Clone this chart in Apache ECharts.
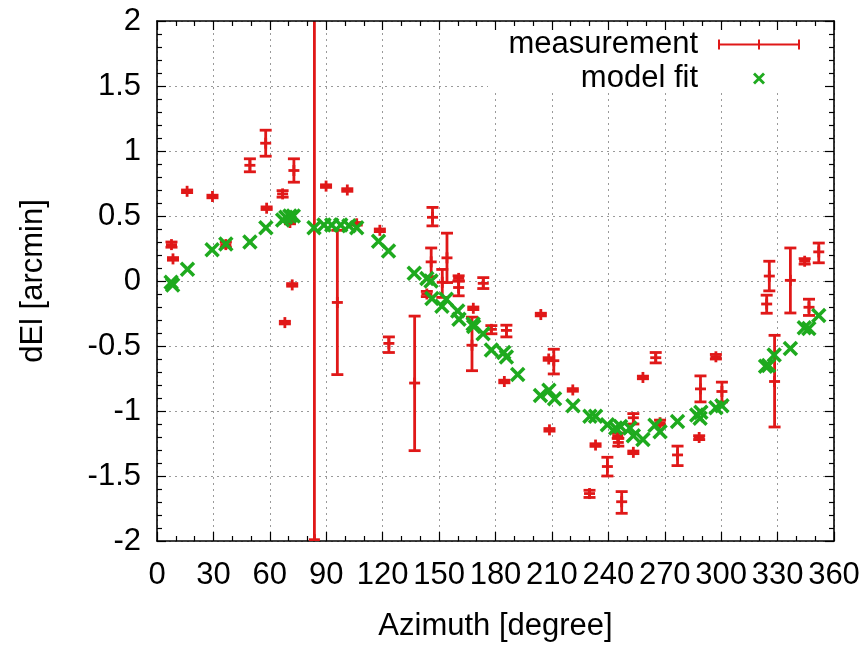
<!DOCTYPE html>
<html>
<head>
<meta charset="utf-8">
<title>dEl vs Azimuth</title>
<script src="https://cdn.jsdelivr.net/npm/echarts@6/dist/echarts.min.js"></script>
<style>
  html, body { margin: 0; padding: 0; background: #fff; }
  #chart { width: 867px; height: 647px; }
</style>
</head>
<body>
<div id="chart"></div>
<script>
// Measured elevation offsets (arcmin) with lower / upper error limits
const measAz  = [7.7, 8.5, 16.0, 29.5, 36.6, 49.4, 57.8, 58.3, 66.8, 68.0, 70.7, 71.9, 72.8, 83.7, 89.9, 95.9, 101.2, 106.2, 118.5, 123.3, 137.0, 143.5, 145.8, 146.5, 151.7, 154.2, 160.4, 160.4, 167.5, 168.2, 173.5, 177.8, 184.7, 185.8, 204.1, 208.3, 208.7, 211.0, 221.1, 230.0, 233.2, 239.5, 245.0, 245.3, 247.1, 253.3, 253.3, 258.4, 265.2, 267.5, 276.8, 288.3, 289.0, 297.2, 300.4, 324.2, 325.6, 328.4, 336.8, 344.4, 346.7, 351.9];
const measVal = [0.28, 0.17, 0.69, 0.65, 0.28, 0.89, 1.06, 0.56, 0.67, -0.32, 0.45, -0.03, 0.85, -1.99, 0.73, -0.165, 0.70, 0.44, 0.39, -0.48, -0.785, -0.10, 0.147, 0.49, -0.01, 0.178, 0.02, -0.05, -0.494, -0.21, -0.018, -0.372, -0.773, -0.38, -0.258, -0.60, -1.145, -0.613, -0.838, -1.635, -1.262, -1.427, -1.19, -1.242, -1.698, -1.052, -1.318, -0.742, -0.59, -1.09, -1.338, -1.204, -0.83, -0.583, -0.85, -0.177, 0.038, -0.773, 0.005, 0.152, -0.202, 0.224];
const measLo  = [0.26, 0.16, 0.68, 0.64, 0.26, 0.84, 0.96, 0.55, 0.645, -0.33, 0.44, -0.04, 0.76, -5.99, 0.72, -0.72, 0.69, 0.43, 0.38, -0.55, -1.305, -0.12, 0.033, 0.424, -0.126, -0.012, 0.0, -0.114, -0.69, -0.22, -0.058, -0.406, -0.783, -0.43, -0.268, -0.61, -1.155, -0.715, -0.848, -1.665, -1.272, -1.50, -1.21, -1.27, -1.787, -1.10, -1.328, -0.752, -0.63, -1.11, -1.42, -1.22, -0.93, -0.60, -0.93, -0.248, -0.076, -1.123, -0.246, 0.13, -0.265, 0.14];
const measHi  = [0.30, 0.18, 0.70, 0.66, 0.30, 0.94, 1.16, 0.57, 0.695, -0.31, 0.46, -0.02, 0.94, 2.01, 0.74, 0.39, 0.71, 0.45, 0.40, -0.43, -0.27, -0.08, 0.254, 0.566, 0.089, 0.368, 0.04, 0.0, -0.278, -0.20, 0.026, -0.343, -0.763, -0.34, -0.248, -0.59, -1.135, -0.525, -0.828, -1.61, -1.252, -1.356, -1.17, -1.21, -1.62, -1.02, -1.308, -0.732, -0.55, -1.07, -1.27, -1.19, -0.73, -0.565, -0.778, -0.109, 0.152, -0.418, 0.254, 0.172, -0.14, 0.292];

// Pointing model prediction at each observed azimuth
const fitAz  = [7.5, 8.3, 16.2, 29.3, 36.6, 49.4, 57.9, 66.8, 68.5, 70.7, 72.5, 83.5, 88.8, 92.9, 97.7, 102.1, 106.2, 117.8, 123.1, 136.8, 143.5, 145.7, 146.2, 151.5, 153.8, 159.9, 160.6, 168.1, 168.4, 173.4, 177.8, 184.4, 185.8, 191.8, 203.9, 208.4, 211.4, 221.2, 230.2, 233.2, 239.5, 243.9, 246.5, 251.5, 253.3, 258.4, 264.8, 267.5, 276.8, 287.0, 288.8, 289.2, 297.2, 300.4, 323.6, 325.2, 328.2, 336.8, 344.2, 346.6, 351.9];
const fitVal = [-0.01, -0.03, 0.09, 0.24, 0.285, 0.30, 0.41, 0.47, 0.49, 0.50, 0.50, 0.41, 0.43, 0.43, 0.43, 0.425, 0.41, 0.305, 0.23, 0.06, 0.02, 0.0, -0.135, -0.195, -0.14, -0.23, -0.295, -0.33, -0.35, -0.405, -0.53, -0.55, -0.585, -0.72, -0.88, -0.84, -0.905, -0.96, -1.04, -1.04, -1.105, -1.13, -1.12, -1.13, -1.19, -1.22, -1.11, -1.16, -1.08, -1.03, -1.055, -1.01, -0.975, -0.96, -0.655, -0.65, -0.57, -0.52, -0.36, -0.365, -0.265];

const xTicks = { min: 0, max: 360, step: 30 };
const yTicks = { min: -2, max: 2, step: 0.5 };

const RED = '#e01818';
const GREEN = '#1eaa1e';
const FONT = 'Liberation Sans';
const FS = 31;

const measData = measAz.map((a, i) => [a, measVal[i], measLo[i], measHi[i]]);
const fitData = fitAz.map((a, i) => [a, fitVal[i]]);

function renderErrorBar(params, api) {
  const x = api.value(0);
  const c = api.coord([x, api.value(1)]);
  const lo = api.coord([x, api.value(2)]);
  const hi = api.coord([x, api.value(3)]);
  const cap = 6, arm = 5.5;
  const style = { stroke: RED, lineWidth: 2.8, fill: null };
  return {
    type: 'group',
    children: [
      { type: 'line', shape: { x1: lo[0], y1: lo[1], x2: hi[0], y2: hi[1] }, style },
      { type: 'line', shape: { x1: lo[0] - cap, y1: lo[1], x2: lo[0] + cap, y2: lo[1] }, style },
      { type: 'line', shape: { x1: hi[0] - cap, y1: hi[1], x2: hi[0] + cap, y2: hi[1] }, style },
      { type: 'line', shape: { x1: c[0] - arm, y1: c[1], x2: c[0] + arm, y2: c[1] }, style },
      { type: 'line', shape: { x1: c[0], y1: c[1] - arm, x2: c[0], y2: c[1] + arm }, style }
    ]
  };
}

function renderCross(params, api) {
  const p = api.coord([api.value(0), api.value(1)]);
  const s = 6.5;
  const style = { stroke: GREEN, lineWidth: 3.5, fill: null };
  return {
    type: 'group',
    children: [
      { type: 'line', shape: { x1: p[0] - s, y1: p[1] - s, x2: p[0] + s, y2: p[1] + s }, style },
      { type: 'line', shape: { x1: p[0] - s, y1: p[1] + s, x2: p[0] + s, y2: p[1] - s }, style }
    ]
  };
}

const gridLine = { show: true, lineStyle: { color: '#9a9a9a', width: 1, type: [2, 4] } };
const frame = { show: true, onZero: false, lineStyle: { color: '#000', width: 1.6 } };
const majorTick = { show: true, inside: true, length: 9, lineStyle: { color: '#000', width: 1.2 } };
const minorX = { show: true, splitNumber: 3, length: 5, lineStyle: { color: '#000', width: 1.2 } };
const minorY = { show: true, splitNumber: 5, length: 5, lineStyle: { color: '#000', width: 1.2 } };

const chart = echarts.init(document.getElementById('chart'), null, { renderer: 'canvas' });
chart.setOption({
  animation: false,
  backgroundColor: '#fff',
  grid: { left: 157, right: 33, top: 21, bottom: 103 },
  // white key box over the upper-right grid lines
  graphic: [{
    type: 'rect', z: 1, silent: true,
    shape: { x: 488, y: 22, width: 344, height: 70 },
    style: { fill: '#fff' }
  }],
  xAxis: [
    {
      type: 'value', min: xTicks.min, max: xTicks.max, interval: xTicks.step,
      name: 'Azimuth [degree]', nameLocation: 'middle', nameGap: 70,
      nameTextStyle: { fontFamily: FONT, fontSize: FS, color: '#000' },
      axisLine: frame, axisTick: majorTick, minorTick: minorX,
      axisLabel: { fontFamily: FONT, fontSize: FS, color: '#000', margin: 19 },
      splitLine: gridLine
    },
    {
      type: 'value', position: 'top', z: 5, min: xTicks.min, max: xTicks.max, interval: xTicks.step,
      axisLine: frame, axisTick: majorTick, minorTick: minorX,
      axisLabel: { show: false }, splitLine: { show: false }
    }
  ],
  yAxis: [
    {
      type: 'value', min: yTicks.min, max: yTicks.max, interval: yTicks.step,
      name: 'dEl [arcmin]', nameLocation: 'middle', nameGap: 108, nameRotate: 90,
      nameTextStyle: { fontFamily: FONT, fontSize: FS, color: '#000' },
      axisLine: frame, axisTick: majorTick, minorTick: minorY,
      axisLabel: { fontFamily: FONT, fontSize: FS, color: '#000', margin: 16 },
      splitLine: gridLine
    },
    {
      type: 'value', position: 'right', z: 5, min: yTicks.min, max: yTicks.max, interval: yTicks.step,
      axisLine: frame, axisTick: majorTick, minorTick: minorY,
      axisLabel: { show: false }, splitLine: { show: false }
    }
  ],
  legend: [
    {
      data: [{ name: 'measurement', icon: 'path://M0,0h2v4h38v-4h2v4h38v-4h2v10h-2v-4h-38v4h-2v-4h-38v4h-2z' }],
      right: 67, top: 29, align: 'right', itemWidth: 82, itemHeight: 10,
      textStyle: { fontFamily: FONT, fontSize: FS, color: '#000', padding: [0, 15, 0, 0] },
      padding: 0, selectedMode: false
    },
    {
      data: [{ name: 'model fit', icon: 'path://M0,2L2,0L6,4L10,0L12,2L8,6L12,10L10,12L6,8L2,12L0,10L4,6Z' }],
      right: 102, top: 63, align: 'right', itemWidth: 12, itemHeight: 12,
      textStyle: { fontFamily: FONT, fontSize: FS, color: '#000', padding: [0, 50, 0, 0] },
      padding: 0, selectedMode: false
    }
  ],
  series: [
    {
      name: 'measurement', type: 'custom', clip: true,
      itemStyle: { color: RED },
      renderItem: renderErrorBar,
      encode: { x: 0, y: [1, 2, 3] },
      data: measData, z: 3
    },
    {
      name: 'model fit', type: 'custom', clip: true,
      itemStyle: { color: GREEN },
      renderItem: renderCross,
      encode: { x: 0, y: 1 },
      data: fitData, z: 4
    }
  ]
});
</script>
</body>
</html>
